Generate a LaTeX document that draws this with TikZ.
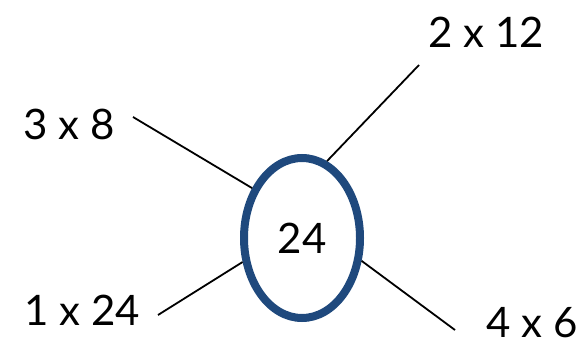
\documentclass[tikz,border=0pt]{standalone}
\usepackage{fontspec}
\setmainfont{Lato}
\usetikzlibrary{positioning,shapes.geometric}
\definecolor{RingBlue}{RGB}{31,73,125}
\tikzset{
  factor ring/.style={
    ellipse,
    draw=RingBlue,
    line width=8pt,
    minimum width=116pt,
    minimum height=160pt,
    inner sep=0pt,
    font=\fontsize{42}{46}\selectfont
  },
  factor label/.style={inner sep=0pt, font=\fontsize{42}{46}\selectfont},
  factor line/.style={line width=1.8pt, black}
}
\begin{document}
\begin{tikzpicture}[x=1pt,y=1pt]
\useasboundingbox (0,0) rectangle (585,346);
\node[factor ring] (ring) at (302,108) {24};
\node[factor label] (f38) at (69,222) {3 x 8};
\node[factor label] (f212) at (486,314) {2 x 12};
\node[factor label] (f124) at (82,36) {1 x 24};
\node[factor label] (f46) at (532,23) {4 x 6};
\coordinate (c38) at (133,229);
\coordinate (c212) at (419,281);
\coordinate (c124) at (158,31);
\coordinate (c46) at (455,16);
\draw[factor line] (c38)--(ring.135);
\draw[factor line] (c212)--(ring.72);
\draw[factor line] (c124)--(ring.202);
\draw[factor line] (c46)--(ring.339);
\end{tikzpicture}
\end{document}
